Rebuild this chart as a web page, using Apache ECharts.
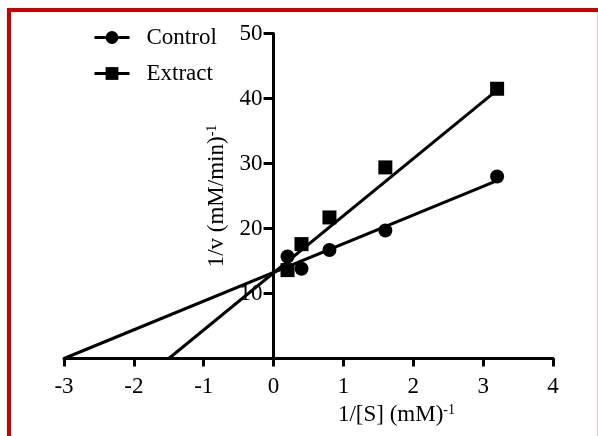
<!DOCTYPE html>
<html>
<head>
<meta charset="utf-8">
<script src="https://cdn.jsdelivr.net/npm/echarts@6/dist/echarts.min.js"></script>
<style>
  html, body { margin: 0; padding: 0; background: #fff; overflow: hidden; }
  #frame { position: absolute; left: 7px; top: 8px; width: 600px; height: 437px; box-sizing: border-box;
           border: 4px solid #c80000; border-right: none; }
  #edge { position: absolute; left: 597px; top: 12px; width: 1px; height: 424px; background: #f2c4c4; }
  #chart { position: absolute; left: 0; top: 0; width: 598px; height: 436px; }
</style>
</head>
<body>
<div id="frame"></div>
<div id="edge"></div>
<div id="chart"></div>
<script>
// Data
const xTicks = [-3, -2, -1, 0, 1, 2, 3, 4];
const yTicks = [10, 20, 30, 40, 50];
const substrate = [0.2, 0.4, 0.8, 1.6, 3.2];           // 1/[S]
const controlValues = [15.7, 13.8, 16.7, 19.7, 28.0];  // 1/v control
const extractValues = [13.6, 17.6, 21.7, 29.4, 41.5];  // 1/v extract
const controlFitX = [-3.0, 3.2];
const controlFitY = [0, 27.35];
const extractFitX = [-1.5, 3.2];
const extractFitY = [0, 41.3];

const pts = (xs, ys) => xs.map((x, i) => [x, ys[i]]);
const FONT = 'Liberation Serif';
const FS = 23;

const W = 598, H = 436;
const gridLeft = 64, gridRight = 45, gridTop = 33.5, gridBottom = 77.5;
const xMin = xTicks[0], xMax = xTicks[xTicks.length - 1];
// place the y axis where x = 0 (axis crosses at origin)
const yAxisOffset = -((0 - xMin) / (xMax - xMin)) * (W - gridLeft - gridRight);

const supStyle = { fontFamily: FONT, fontSize: 14, color: '#000', verticalAlign: 'top', lineHeight: 23, padding: [0, 0, 8, 0] };

const chart = echarts.init(document.getElementById('chart'), null, { renderer: 'canvas' });
chart.setOption({
  backgroundColor: 'transparent',
  animation: false,
  grid: { left: gridLeft, right: gridRight, top: gridTop, bottom: gridBottom, containLabel: false },
  legend: {
    data: ['Control', 'Extract'],
    orient: 'vertical',
    left: 88,
    top: 21,
    itemWidth: 35,
    itemHeight: 16,
    itemGap: 13,
    textStyle: { fontFamily: FONT, fontSize: FS, color: '#000', lineHeight: 23, padding: [0, 0, 0, 12] },
    lineStyle: { width: 3, color: '#000' },
    itemStyle: { color: '#000' }
  },
  xAxis: {
    type: 'value', min: xMin, max: xMax, interval: 1,
    axisLine: { onZero: true, lineStyle: { color: '#000', width: 3 } },
    axisTick: { length: 8, lineStyle: { color: '#000', width: 3 } },
    axisLabel: { fontFamily: FONT, fontSize: FS, color: '#000', margin: 17 },
    splitLine: { show: false },
    name: '1/[S] (mM){sup|-1}',
    nameLocation: 'middle',
    nameGap: 39,
    nameTextStyle: {
      fontFamily: FONT, fontSize: FS, color: '#000', lineHeight: 23, padding: [0, 0, 0, 176],
      rich: { sup: supStyle }
    }
  },
  yAxis: {
    type: 'value', min: 0, max: yTicks[yTicks.length - 1], interval: 10,
    offset: yAxisOffset,
    axisLine: { onZero: false, lineStyle: { color: '#000', width: 3 } },
    axisTick: { length: 10, lineStyle: { color: '#000', width: 3 } },
    axisLabel: { fontFamily: FONT, fontSize: FS, color: '#000', margin: 11,
                 formatter: v => (yTicks.indexOf(v) >= 0 ? String(v) : '') },
    splitLine: { show: false },
    name: '1/v (mM/min){sup|-1}',
    nameLocation: 'middle',
    nameGap: 44,
    nameTextStyle: {
      fontFamily: FONT, fontSize: FS, color: '#000', lineHeight: 23,
      rich: { sup: supStyle }
    }
  },
  series: [
    {
      name: 'Control', type: 'line', data: pts(controlFitX, controlFitY),
      showSymbol: false, symbol: 'circle', symbolSize: 14,
      lineStyle: { color: '#000', width: 3 }, itemStyle: { color: '#000' }, z: 2
    },
    {
      name: 'Extract', type: 'line', data: pts(extractFitX, extractFitY),
      showSymbol: false, symbol: 'rect', symbolSize: 14,
      lineStyle: { color: '#000', width: 3 }, itemStyle: { color: '#000' }, z: 2
    },
    {
      name: 'ControlPts', type: 'scatter', data: pts(substrate, controlValues),
      symbol: 'circle', symbolSize: 14, itemStyle: { color: '#000', opacity: 1 }, z: 3
    },
    {
      name: 'ExtractPts', type: 'scatter', data: pts(substrate, extractValues),
      symbol: 'rect', symbolSize: 14, itemStyle: { color: '#000', opacity: 1 }, z: 3
    }
  ]
});
</script>
</body>
</html>
